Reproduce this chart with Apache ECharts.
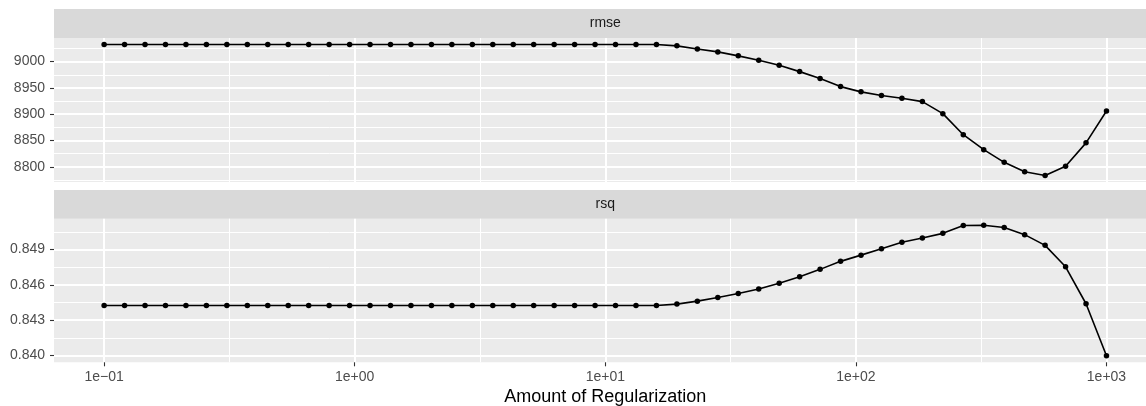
<!DOCTYPE html>
<html>
<head>
<meta charset="utf-8">
<script src="https://cdn.jsdelivr.net/npm/echarts@6/dist/echarts.min.js"></script>
<style>
html,body{margin:0;padding:0;background:#fff;overflow:hidden;width:1146px;height:406px;}
#c{width:1157px;height:406px;}
</style>
</head>
<body>
<div id="c"></div>
<script>
// ---- data ----
const penalty = [0.1, 0.12068, 0.14563, 0.17575, 0.21210, 0.25595, 0.30888, 0.37276, 0.44984, 0.54287,
  0.65513, 0.79060, 0.95410, 1.15140, 1.38950, 1.67683, 2.02359, 2.44205, 2.94705, 3.55648,
  4.29193, 5.17947, 6.25055, 7.54312, 9.10298, 10.98541, 13.25711, 15.99859, 19.30698, 23.29952,
  28.11769, 33.93222, 40.94915, 49.41713, 59.63623, 71.96857, 86.85114, 104.81131, 126.48552, 152.64180,
  184.20700, 222.29965, 268.26958, 323.74575, 390.69399, 471.48664, 568.98660, 686.65208, 828.64277, 1000];
const rmse = [9032.5, 9032.5, 9032.5, 9032.5, 9032.5, 9032.5, 9032.5, 9032.5, 9032.5, 9032.5,
  9032.5, 9032.5, 9032.5, 9032.5, 9032.5, 9032.5, 9032.5, 9032.5, 9032.5, 9032.5,
  9032.5, 9032.5, 9032.5, 9032.5, 9032.5, 9032.5, 9032.5, 9032.5, 9030, 9024,
  9018.5, 9011, 9002.5, 8993, 8981, 8968, 8952.5, 8942.5, 8935.5, 8930.5,
  8924, 8901, 8861, 8832.5, 8808.5, 8790.5, 8783.5, 8801, 8845.5, 8906];
const rsq = [0.84424, 0.84424, 0.84424, 0.84424, 0.84424, 0.84424, 0.84424, 0.84424, 0.84424, 0.84424,
  0.84424, 0.84424, 0.84424, 0.84424, 0.84424, 0.84424, 0.84424, 0.84424, 0.84424, 0.84424,
  0.84424, 0.84424, 0.84424, 0.84424, 0.84424, 0.84424, 0.84424, 0.84424, 0.84436, 0.84461,
  0.84492, 0.84526, 0.84565, 0.84613, 0.84669, 0.84731, 0.84799, 0.84852, 0.84906, 0.84962,
  0.84997, 0.85037, 0.85104, 0.85106, 0.85087, 0.85026, 0.84935, 0.84753, 0.84439, 0.83997];
const panels = ['rmse', 'rsq'];
const xBreaks = [0.1, 1, 10, 100, 1000];
const xLabels = ['1e\u221201', '1e+00', '1e+01', '1e+02', '1e+03'];
const xMinor = [0.31623, 3.16228, 31.62278, 316.22777];
const rmseBreaks = [8800, 8850, 8900, 8950, 9000];
const rmseMinor = [8775, 8825, 8875, 8925, 8975, 9025];
const rsqBreaks = [0.840, 0.843, 0.846, 0.849];
const rsqMinor = [0.8415, 0.8445, 0.8475, 0.8505];
const xTitle = 'Amount of Regularization';

// ---- layout / style ----
const FONT = 'Liberation Sans, Arial, Helvetica, sans-serif';
const L = 54, W = 1102.6;
const panelBox = [{top: 38, height: 144}, {top: 218.7, height: 143.6}];
const stripBox = [{top: 9, height: 29}, {top: 190, height: 28.7}];

function expand(arr) {
  const lo = Math.min.apply(null, arr), hi = Math.max.apply(null, arr);
  const d = (hi - lo) * 0.05;
  return [lo - d, hi + d];
}
const xLo = Math.pow(10, -1.2), xHi = Math.pow(10, 3.2);

const grids = panelBox.map(p => ({
  left: L, width: W, top: p.top, height: p.height,
  show: true, backgroundColor: '#EBEBEB', borderWidth: 0, containLabel: false,
  outerBoundsMode: 'none'
}));

function xAx(grid, values, width, withLabels) {
  return {
    type: 'log', logBase: 10, gridIndex: grid, min: xLo, max: xHi,
    axisLine: {show: false},
    axisTick: {show: withLabels, customValues: values, length: 4, lineStyle: {color: '#333333', width: 1.1}},
    axisLabel: withLabels ? {
      show: true, customValues: values, margin: 8, color: '#4D4D4D', fontSize: 14, fontFamily: FONT,
      formatter: v => { const i = xBreaks.findIndex(b => Math.abs(Math.log10(b) - Math.log10(v)) < 1e-6); return i >= 0 ? xLabels[i] : ''; }
    } : {show: false},
    splitLine: {show: true, lineStyle: {color: '#FFFFFF', width: width}},
    name: withLabels ? xTitle : '',
    nameLocation: 'middle', nameGap: 26,
    nameTextStyle: {color: '#000000', fontSize: 18, fontFamily: FONT}
  };
}
function yAx(grid, range, values, width, withLabels, fmt) {
  return {
    type: 'value', gridIndex: grid, min: range[0], max: range[1], position: 'left',
    axisLine: {show: false},
    axisTick: {show: withLabels, customValues: values, length: 4, lineStyle: {color: '#333333', width: 1.1}},
    axisLabel: withLabels ? {show: true, customValues: values, margin: 9, color: '#4D4D4D', fontSize: 14, fontFamily: FONT, formatter: fmt} : {show: false},
    splitLine: {show: true, lineStyle: {color: '#FFFFFF', width: width}}
  };
}
const rRange = expand(rmse), qRange = expand(rsq);

const option = {
  animation: false,
  backgroundColor: '#FFFFFF',
  grid: grids,
  xAxis: [
    xAx(0, xBreaks, 2, false), xAx(0, xMinor, 1, false),
    xAx(1, xBreaks, 2, true), xAx(1, xMinor, 1, false)
  ],
  yAxis: [
    yAx(0, rRange, rmseBreaks, 2, true, v => String(Math.round(v))),
    yAx(0, rRange, rmseMinor, 1, false),
    yAx(1, qRange, rsqBreaks, 2, true, v => v.toFixed(3)),
    yAx(1, qRange, rsqMinor, 1, false)
  ],
  graphic: stripBox.map((s, i) => ({
    type: 'group',
    children: [
      {type: 'rect', shape: {x: L, y: s.top, width: W, height: s.height}, style: {fill: '#D9D9D9'}, silent: true},
      {type: 'text', x: L + W / 2, y: s.top + s.height / 2,
       style: {text: panels[i], fill: '#1A1A1A', font: '14px ' + FONT, align: 'center', verticalAlign: 'middle'}, silent: true}
    ]
  })),
  series: [
    {type: 'line', name: 'rmse', xAxisIndex: 0, yAxisIndex: 0,
     data: penalty.map((p, i) => [p, rmse[i]]),
     symbol: 'circle', symbolSize: 5.5, showSymbol: true, showAllSymbol: true,
     lineStyle: {color: '#000000', width: 1.6}, itemStyle: {color: '#000000'}},
    {type: 'line', name: 'rsq', xAxisIndex: 2, yAxisIndex: 2,
     data: penalty.map((p, i) => [p, rsq[i]]),
     symbol: 'circle', symbolSize: 5.5, showSymbol: true, showAllSymbol: true,
     lineStyle: {color: '#000000', width: 1.6}, itemStyle: {color: '#000000'}}
  ]
};
const chart = echarts.init(document.getElementById('c'), null, {renderer: 'canvas'});
chart.setOption(option);
</script>
</body>
</html>
